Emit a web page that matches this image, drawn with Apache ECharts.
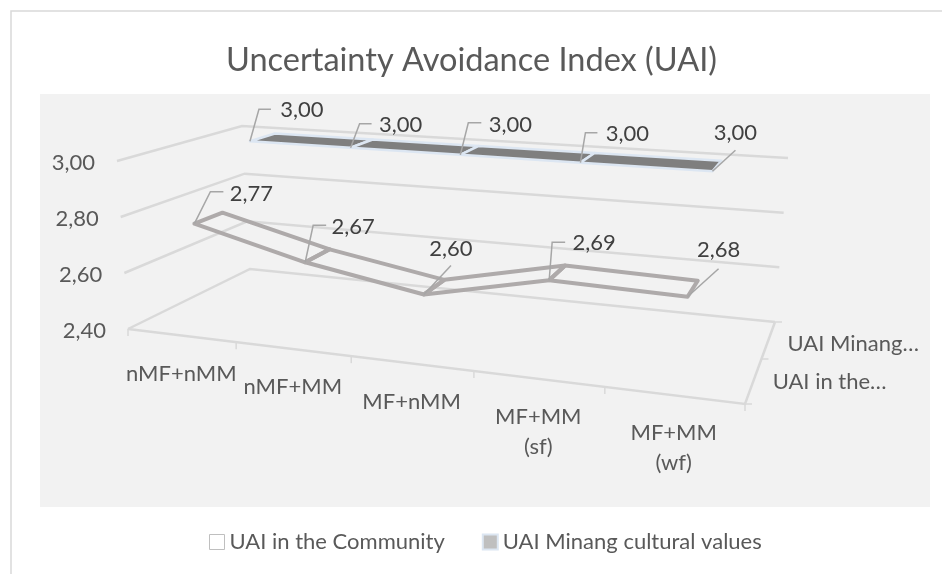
<!DOCTYPE html>
<html>
<head>
<meta charset="utf-8">
<style>html,body{margin:0;padding:0;background:#fff}#chart{width:942px;height:574px}</style>
<script src="https://cdn.jsdelivr.net/npm/echarts@6/dist/echarts.min.js"></script>
</head>
<body>
<div id="chart"></div>
<script>
// data
const categories = ['nMF+nMM', 'nMF+MM', 'MF+nMM', 'MF+MM\n(sf)', 'MF+MM\n(wf)'];
const community = [2.77, 2.67, 2.60, 2.69, 2.68];
const minang = [3.00, 3.00, 3.00, 3.00, 3.00];
const yTicks = [2.4, 2.6, 2.8, 3.0];
const depthLabels = ['UAI in the…', 'UAI Minang…'];

// box corners on screen: floor (2,40) and top (3,00) planes
const floor = [[128, 329], [745, 404], [775, 322], [250, 269]];
const top3 = [[117, 161], [759, 211], [788, 158], [242, 126]];
const FONT = 'Lato';
const RIBBON_SHIFT = 0.007; // ribbons sit a little right of the band centre

// unit square -> quad
function homography(q) {
  const [[x0, y0], [x1, y1], [x2, y2], [x3, y3]] = q;
  const dx1 = x1 - x2, dx2 = x3 - x2, sx = x0 - x1 + x2 - x3;
  const dy1 = y1 - y2, dy2 = y3 - y2, sy = y0 - y1 + y2 - y3;
  const den = dx1 * dy2 - dx2 * dy1;
  const g = (sx * dy2 - dx2 * sy) / den, h = (dx1 * sy - sx * dy1) / den;
  const a = x1 - x0 + g * x1, b = x3 - x0 + h * x3;
  const d = y1 - y0 + g * y1, e = y3 - y0 + h * y3;
  return (u, v) => {
    const w = g * u + h * v + 1;
    return [(a * u + b * v + x0) / w, (d * u + e * v + y0) / w];
  };
}
const floorH = homography(floor), topH = homography(top3);

// u along categories, h up the value axis, d into the depth
function project(u, h, d) {
  const p = floorH(u, d), q = topH(u, d);
  return [p[0] + (q[0] - p[0]) * h, p[1] + (q[1] - p[1]) * h];
}
// flat grid coordinate -> box position, so the axes keep doing the scaling
function toBox(params, api, cat, val, d) {
  const c = api.coord([cat, val]), s = params.coordSys;
  return project((c[0] - s.x) / s.width + RIBBON_SHIFT, (s.y + s.height - c[1]) / s.height, d);
}
function label(x, y, text, o) {
  return { type: 'text', x, y, silent: true, style: Object.assign({
    text, fontFamily: FONT, fontSize: 22, fill: '#595959', align: 'center', verticalAlign: 'middle'
  }, o) };
}
function fmt(v) { return v.toFixed(2).replace('.', ','); }

// leader lines: offsets from the front point [elbowX, elbowY, endX, endY, labelX, labelY]
const communityLeaders = [
  [16, -32, 29, -32, 57, -30], [8, -37, 21, -37, 48, -35], [27, -29, 27, -29, 27, -46],
  [3, -38, 16, -38, 45, -37], [31, -28, 31, -28, 31, -47]
];
const minangLeaders = [
  [9, -32, 21, -32, 52, -31], [9, -24, 21, -24, 50, -23], [8, -32, 21, -32, 50, -30],
  [5, -30, 17, -30, 47, -29], [23, -21, 23, -21, 23, -38]
];

function ribbon(values, leaders, d0, d1, edge, fill, width) {
  return function (params, api) {
    const i = api.value(0), v = api.value(1);
    const f = toBox(params, api, i, v, d0), b = toBox(params, api, i, v, d1);
    const kids = [];
    if (i < values.length - 1) {
      const f2 = toBox(params, api, i + 1, values[i + 1], d0), b2 = toBox(params, api, i + 1, values[i + 1], d1);
      kids.push({ type: 'polygon', shape: { points: [f, f2, b2, b] },
        style: { fill, stroke: edge, lineWidth: width, lineJoin: 'round' } });
    }
    const l = leaders[i];
    kids.push({ type: 'polyline', z2: 5,
      shape: { points: [f, [f[0] + l[0], f[1] + l[1]], [f[0] + l[2], f[1] + l[3]]] },
      style: { fill: 'none', stroke: '#a6a6a6', lineWidth: 1.5 } });
    kids.push(Object.assign(label(f[0] + l[4], f[1] + l[5], fmt(v), { fill: '#404040' }), { z2: 6 }));
    return { type: 'group', children: kids };
  };
}

const GRID = '#d9d9d9';
function renderFrame(params, api) {
  const t = api.value(1), s = params.coordSys;
  const h = (s.y + s.height - api.coord([0, t])[1]) / s.height;
  const a = project(0, h, 0);
  const kids = [
    { type: 'polyline', shape: { points: [a, project(0, h, 1), project(1, h, 1)] },
      style: { fill: 'none', stroke: GRID, lineWidth: 2.5 } },
    label(a[0] - 22, a[1] + 2, fmt(t), { align: 'right' })
  ];
  if (params.dataIndex === 0) {
    const fr = project(1, 0, 0), br = project(1, 0, 1);
    kids.push({ type: 'polyline', shape: { points: [a, fr, br] },
      style: { fill: 'none', stroke: GRID, lineWidth: 2.5 } });
    categories.forEach((name, i) => {
      const p = project(i / categories.length, 0, 0);
      kids.push({ type: 'line', shape: { x1: p[0], y1: p[1], x2: p[0], y2: p[1] + 7 }, style: { stroke: GRID, lineWidth: 1.5 } });
      const m = project((i + 0.5) / categories.length, 0, 0);
      kids.push(label(m[0], m[1] + 23, name, { verticalAlign: 'top', lineHeight: 30 }));
    });
    kids.push({ type: 'line', shape: { x1: fr[0], y1: fr[1], x2: fr[0], y2: fr[1] + 7 }, style: { stroke: GRID, lineWidth: 1.5 } });
    [0, 0.5, 1].forEach(d => {
      const p = project(1, 0, d);
      kids.push({ type: 'line', shape: { x1: p[0], y1: p[1], x2: p[0] + 7, y2: p[1] }, style: { stroke: GRID, lineWidth: 1.5 } });
    });
    [0.25, 0.75].forEach((d, i) => {
      const p = project(1, 0, d);
      kids.push(label(p[0] + 19, p[1] + (i ? 4 : 2), depthLabels[i], { align: 'left' }));
    });
  }
  return { type: 'group', children: kids };
}

const chart = echarts.init(document.getElementById('chart'), null, { renderer: 'canvas' });
chart.setOption({
  animation: false,
  backgroundColor: '#fff',
  title: {
    text: 'Uncertainty Avoidance Index (UAI)', left: 221, top: 39,
    textStyle: { color: '#595959', fontFamily: FONT, fontSize: 32.5, fontWeight: 'normal' }
  },
  graphic: [{ type: 'rect', silent: true, z: -1, shape: { x: 11, y: 11, width: 1000, height: 1000 },
    style: { fill: 'none', stroke: '#d9d9d9', lineWidth: 1.5 } }],
  legend: {
    left: 204, top: 526, itemWidth: 15, itemHeight: 15, itemGap: 37, icon: 'rect',
    textStyle: { color: '#595959', fontFamily: FONT, fontSize: 22 },
    data: [
      { name: 'UAI in the Community', itemStyle: { color: '#fff', borderColor: '#bfbfbf', borderWidth: 1 } },
      { name: 'UAI Minang cultural values', itemStyle: { color: '#bfbfbf', borderColor: '#dce6f2', borderWidth: 2 } }
    ]
  },
  grid: { left: 40, top: 94, width: 890, height: 413, show: true, backgroundColor: '#f2f2f2', borderWidth: 0 },
  xAxis: { type: 'category', data: categories, show: false },
  yAxis: { type: 'value', min: 2.4, max: 3.0, interval: 0.2, show: false },
  series: [
    { type: 'custom', name: 'frame', renderItem: renderFrame, silent: true, z: 1,
      data: yTicks.map(t => [0, t]) },
    { type: 'custom', name: 'UAI Minang cultural values', z: 2, silent: true,
      renderItem: ribbon(minang, minangLeaders, 0.62, 0.85, '#dce6f2', '#7f7f7f', 2.5),
      data: minang.map((v, i) => [i, v]) },
    { type: 'custom', name: 'UAI in the Community', z: 3, silent: true,
      renderItem: ribbon(community, communityLeaders, 0.13, 0.35, '#aeaaaa', 'none', 4),
      data: community.map((v, i) => [i, v]) }
  ]
});
</script>
</body>
</html>
